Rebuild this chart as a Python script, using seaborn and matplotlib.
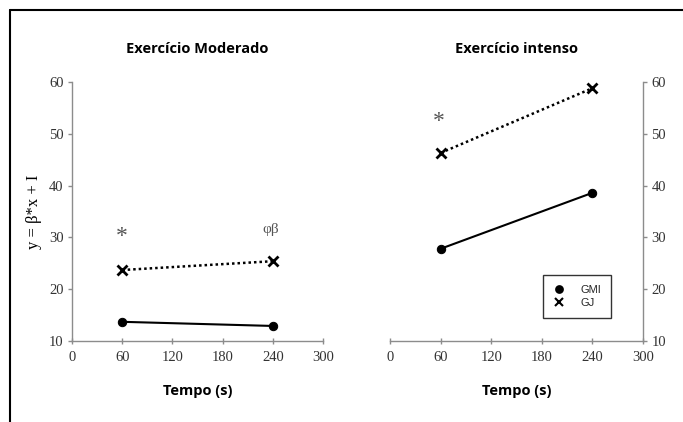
import pandas as pd
import seaborn as sns
import matplotlib.pyplot as plt
from matplotlib.lines import Line2D

# Data
tempo = [60, 240]
gmi_moderado = [13.7, 12.9]
gj_moderado = [23.7, 25.4]
gmi_intenso = [27.8, 38.6]
gj_intenso = [46.3, 58.8]

titles = ["Exercício Moderado", "Exercício intenso"]
xticks = [0, 60, 120, 180, 240, 300]
yticks = [10, 20, 30, 40, 50, 60]

sns.set_theme(style="white")
plt.rcParams['font.family'] = ['Liberation Serif', 'DejaVu Serif']

fig = plt.figure(figsize=(6.83, 4.22), dpi=100)
ax_l = fig.add_axes([0.1054, 0.192, 0.3676, 0.6137])
ax_r = fig.add_axes([0.571, 0.192, 0.3704, 0.6137])

spine_color = "#8c8c8c"
text_color = "#333333"
sans_bold = dict(family=["Open Sans", "DejaVu Sans"], fontweight="bold",
                 fontsize=10.5, color="black")


def draw_panel(ax, gmi, gj, title, side):
    df = pd.DataFrame({"Tempo": tempo * 2,
                       "y": gmi + gj,
                       "grupo": ["GMI"] * 2 + ["GJ"] * 2})
    sns.lineplot(data=df[df.grupo == "GMI"], x="Tempo", y="y", ax=ax,
                 color="black", lw=1.5, marker="o", markersize=6,
                 markeredgecolor="black", label="GMI")
    sns.lineplot(data=df[df.grupo == "GJ"], x="Tempo", y="y", ax=ax,
                 color="black", lw=1.8, ls=(0, (1, 1.2)), marker="x",
                 markersize=7, mew=2, markeredgecolor="black", label="GJ")
    ax.set_xlim(0, 300)
    ax.set_ylim(10, 60)
    ax.set_xticks(xticks)
    ax.set_yticks(yticks)
    ax.set_title(title, pad=21, **sans_bold)
    ax.set_xlabel("Tempo (s)", labelpad=14, **sans_bold)
    ax.set_ylabel("")
    for s in ax.spines.values():
        s.set_visible(False)
    ax.spines["bottom"].set_visible(True)
    ax.spines[side].set_visible(True)
    for s in ("bottom", side):
        ax.spines[s].set_color(spine_color)
        ax.spines[s].set_linewidth(1)
    ax.tick_params(axis="x", direction="inout", length=5, width=1,
                   color=spine_color, labelsize=10.5, labelcolor=text_color,
                   pad=5, bottom=True)
    ax.tick_params(axis="y", direction="out", length=3, width=1,
                   color=spine_color, labelsize=10.5, labelcolor=text_color,
                   pad=3)
    if side == "right":
        ax.yaxis.tick_right()
        ax.tick_params(axis="y", left=False, right=True)
    else:
        ax.tick_params(axis="y", left=True)


draw_panel(ax_l, gmi_moderado, gj_moderado, titles[0], "left")
draw_panel(ax_r, gmi_intenso, gj_intenso, titles[1], "right")

ax_l.set_ylabel("y = β*x + I", fontsize=12, labelpad=5, color="black")
ax_l.get_legend().remove()

leg = ax_r.legend(loc="lower right", bbox_to_anchor=(0.873, 0.089),
                  frameon=True, fancybox=False, edgecolor="black",
                  prop={"family": "Liberation Sans", "size": 8},
                  handlelength=1.0, borderpad=0.9, labelspacing=0.3,
                  handletextpad=1.4, borderaxespad=0, markerscale=0.8)
leg.get_frame().set_linewidth(1)
for h in leg.legend_handles:
    h.set_linestyle("none")
    h.set_markeredgewidth(1.5)

# significance marks
ax_l.text(60, 30.2, "*", ha="center", va="center", fontsize=17, color="#555555")
ax_l.text(237, 31.5, "φβ", ha="center", va="center", fontsize=11, color="#555555")
ax_r.text(58, 52.4, "*", ha="center", va="center", fontsize=17, color="#555555")

# outer frame (top and left edges)
fig.add_artist(Line2D([10 / 683, 1], [1 - 10 / 422] * 2, color="black", lw=1.5))
fig.add_artist(Line2D([10 / 683] * 2, [0, 1 - 10 / 422], color="black", lw=1.5))

fig.savefig("out.png", dpi=100)
